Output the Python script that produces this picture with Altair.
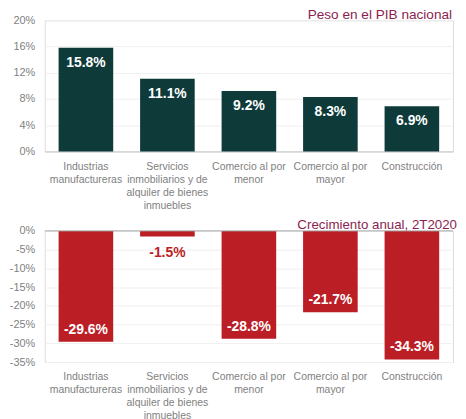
import altair as alt
import pandas as pd

categories = [
    "Industrias|manufactureras",
    "Servicios|inmobiliarios y de|alquiler de bienes|inmuebles",
    "Comercio al por|menor",
    "Comercio al por|mayor",
    "Construcción",
]
peso = [0.158, 0.111, 0.092, 0.083, 0.069]
crecimiento = [-0.296, -0.015, -0.288, -0.217, -0.343]
peso_ticks = [0, 0.04, 0.08, 0.12, 0.16, 0.20]
crec_ticks = [0, -0.05, -0.10, -0.15, -0.20, -0.25, -0.30, -0.35]
title_top = "Peso en el PIB nacional"
title_bottom = "Crecimiento anual, 2T2020"

GREEN = "#0E3A3A"
RED = "#BC1E25"
MAROON = "#8B1F50"
GRAY = "#7F7F7F"
FONT = "Liberation Sans"
W, H = 411, 132

df = pd.DataFrame({"cat": categories, "peso": peso, "crec": crecimiento})

xaxis_common = dict(
    title=None, labelAngle=0, labelExpr="split(datum.label, '|')",
    labelColor=GRAY, labelFont=FONT, labelFontSize=10.5, labelLineHeight=13,
    labelPadding=10, ticks=False, labelLimit=0,
)
yaxis_common = dict(
    title=None, format=".0%", domain=False, ticks=False, labelColor=GRAY,
    labelFont=FONT, labelFontSize=11, labelPadding=10, labelOverlap=False,
    tickCount=20,
    labelExpr="replace(datum.label, '\u2212', '-')", gridColor="#EFEFEF",
)
xscale = alt.Scale(paddingInner=0.33, paddingOuter=0.17)

base = alt.Chart(df)

# Top panel
top_bars = base.mark_bar(color=GREEN).encode(
    x=alt.X("cat:N", sort=categories, scale=xscale,
            axis=alt.Axis(domain=True, domainColor="#C8C8C8", **xaxis_common)),
    y=alt.Y("peso:Q", scale=alt.Scale(domain=[0, 0.20], nice=False),
            axis=alt.Axis(values=peso_ticks, **yaxis_common)),
)
top_labels = base.transform_calculate(
    lab="replace(format(datum.peso, '.1%'), '\u2212', '-')"
).mark_text(color="white", font=FONT, fontSize=14, fontWeight="bold",
            baseline="middle", dy=15).encode(
    x=alt.X("cat:N", sort=categories), y="peso:Q", text="lab:N")
top_title = alt.Chart(pd.DataFrame({"t": [title_top]})).mark_text(
    align="right", baseline="alphabetic", font=FONT, fontSize=13.7, color=MAROON
).encode(text="t:N", x=alt.value(W - 1), y=alt.value(-1))
top = alt.layer(top_bars, top_labels, top_title).properties(width=W, height=H)

# Bottom panel
bot_bars = base.mark_bar(color=RED).encode(
    x=alt.X("cat:N", sort=categories, scale=xscale,
            axis=alt.Axis(domain=False, **xaxis_common)),
    y=alt.Y("crec:Q", scale=alt.Scale(domain=[-0.35, 0], nice=False),
            axis=alt.Axis(values=crec_ticks, **yaxis_common)),
)
zero_rule = alt.Chart(pd.DataFrame({"z": [0]})).mark_rule(color="#A6A6A6").encode(
    y="z:Q")
lab_calc = "replace(format(datum.crec, '.1%'), '\u2212', '-')"
bot_in = base.transform_filter("datum.crec < -0.05").transform_calculate(
    lab=lab_calc).mark_text(color="white", font=FONT, fontSize=14,
                            fontWeight="bold", baseline="middle", dy=-12).encode(
    x=alt.X("cat:N", sort=categories), y="crec:Q", text="lab:N")
bot_out = base.transform_filter("datum.crec >= -0.05").transform_calculate(
    lab=lab_calc).mark_text(color=RED, font=FONT, fontSize=14,
                            fontWeight="bold", baseline="middle", dy=17).encode(
    x=alt.X("cat:N", sort=categories), y="crec:Q", text="lab:N")
bot_title = alt.Chart(pd.DataFrame({"t": [title_bottom]})).mark_text(
    align="right", baseline="alphabetic", font=FONT, fontSize=13.4, color=MAROON
).encode(text="t:N", x=alt.value(W + 4), y=alt.value(-2))
bottom = alt.layer(bot_bars, zero_rule, bot_in, bot_out, bot_title).properties(
    width=W, height=H)

chart = alt.vconcat(top, bottom, spacing=6).properties(
    padding={"left": 0, "top": -2, "right": 0, "bottom": 0}
).configure_view(stroke=None).configure(background="white")

chart.save("out.html", embed_options={"renderer": "svg", "actions": False})
